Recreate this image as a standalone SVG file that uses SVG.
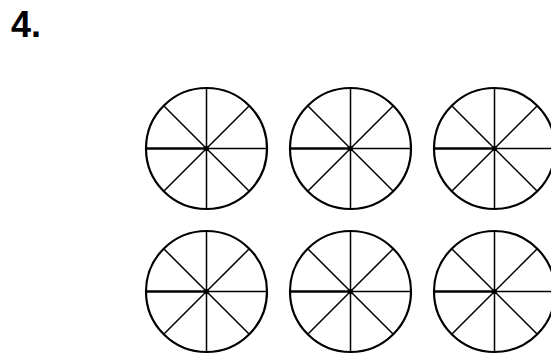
<svg xmlns="http://www.w3.org/2000/svg" width="551" height="354" viewBox="0 0 551 354">
<defs>
<style>
.rim{fill:none;stroke:#000;stroke-width:2.2}
.sp{stroke:#000;stroke-width:1.5;fill:none}
.lh{stroke:#000;stroke-width:2.4;fill:none}
.lbl{font-family:"Liberation Sans",Arial,sans-serif;font-weight:bold;font-size:36px;fill:#000}
</style>
<g id="wheel">
<circle class="rim" cx="0" cy="0" r="60.5"/>
<line class="sp" x1="0" y1="-60.5" x2="0" y2="60.5"/>
<line class="sp" x1="0" y1="0" x2="60.5" y2="0"/>
<line class="lh" x1="-60.5" y1="0" x2="0" y2="0"/>
<line class="sp" x1="-42.8" y1="-42.8" x2="42.8" y2="42.8"/>
<line class="sp" x1="42.8" y1="-42.8" x2="-42.8" y2="42.8"/>
<circle cx="0" cy="0" r="2.6" fill="#000"/>
</g>
</defs>
<text class="lbl" x="11" y="37">4.</text>
<g id="c1"><use href="#wheel" x="206.5" y="148.5"/></g>
<g id="c2"><use href="#wheel" x="350.5" y="148.5"/></g>
<g id="c3"><use href="#wheel" x="494.5" y="148.5"/></g>
<g id="c4"><use href="#wheel" x="206.5" y="291.5"/></g>
<g id="c5"><use href="#wheel" x="350.5" y="291.5"/></g>
<g id="c6"><use href="#wheel" x="494.5" y="291.5"/></g>
<g id="connectors"></g>
</svg>
